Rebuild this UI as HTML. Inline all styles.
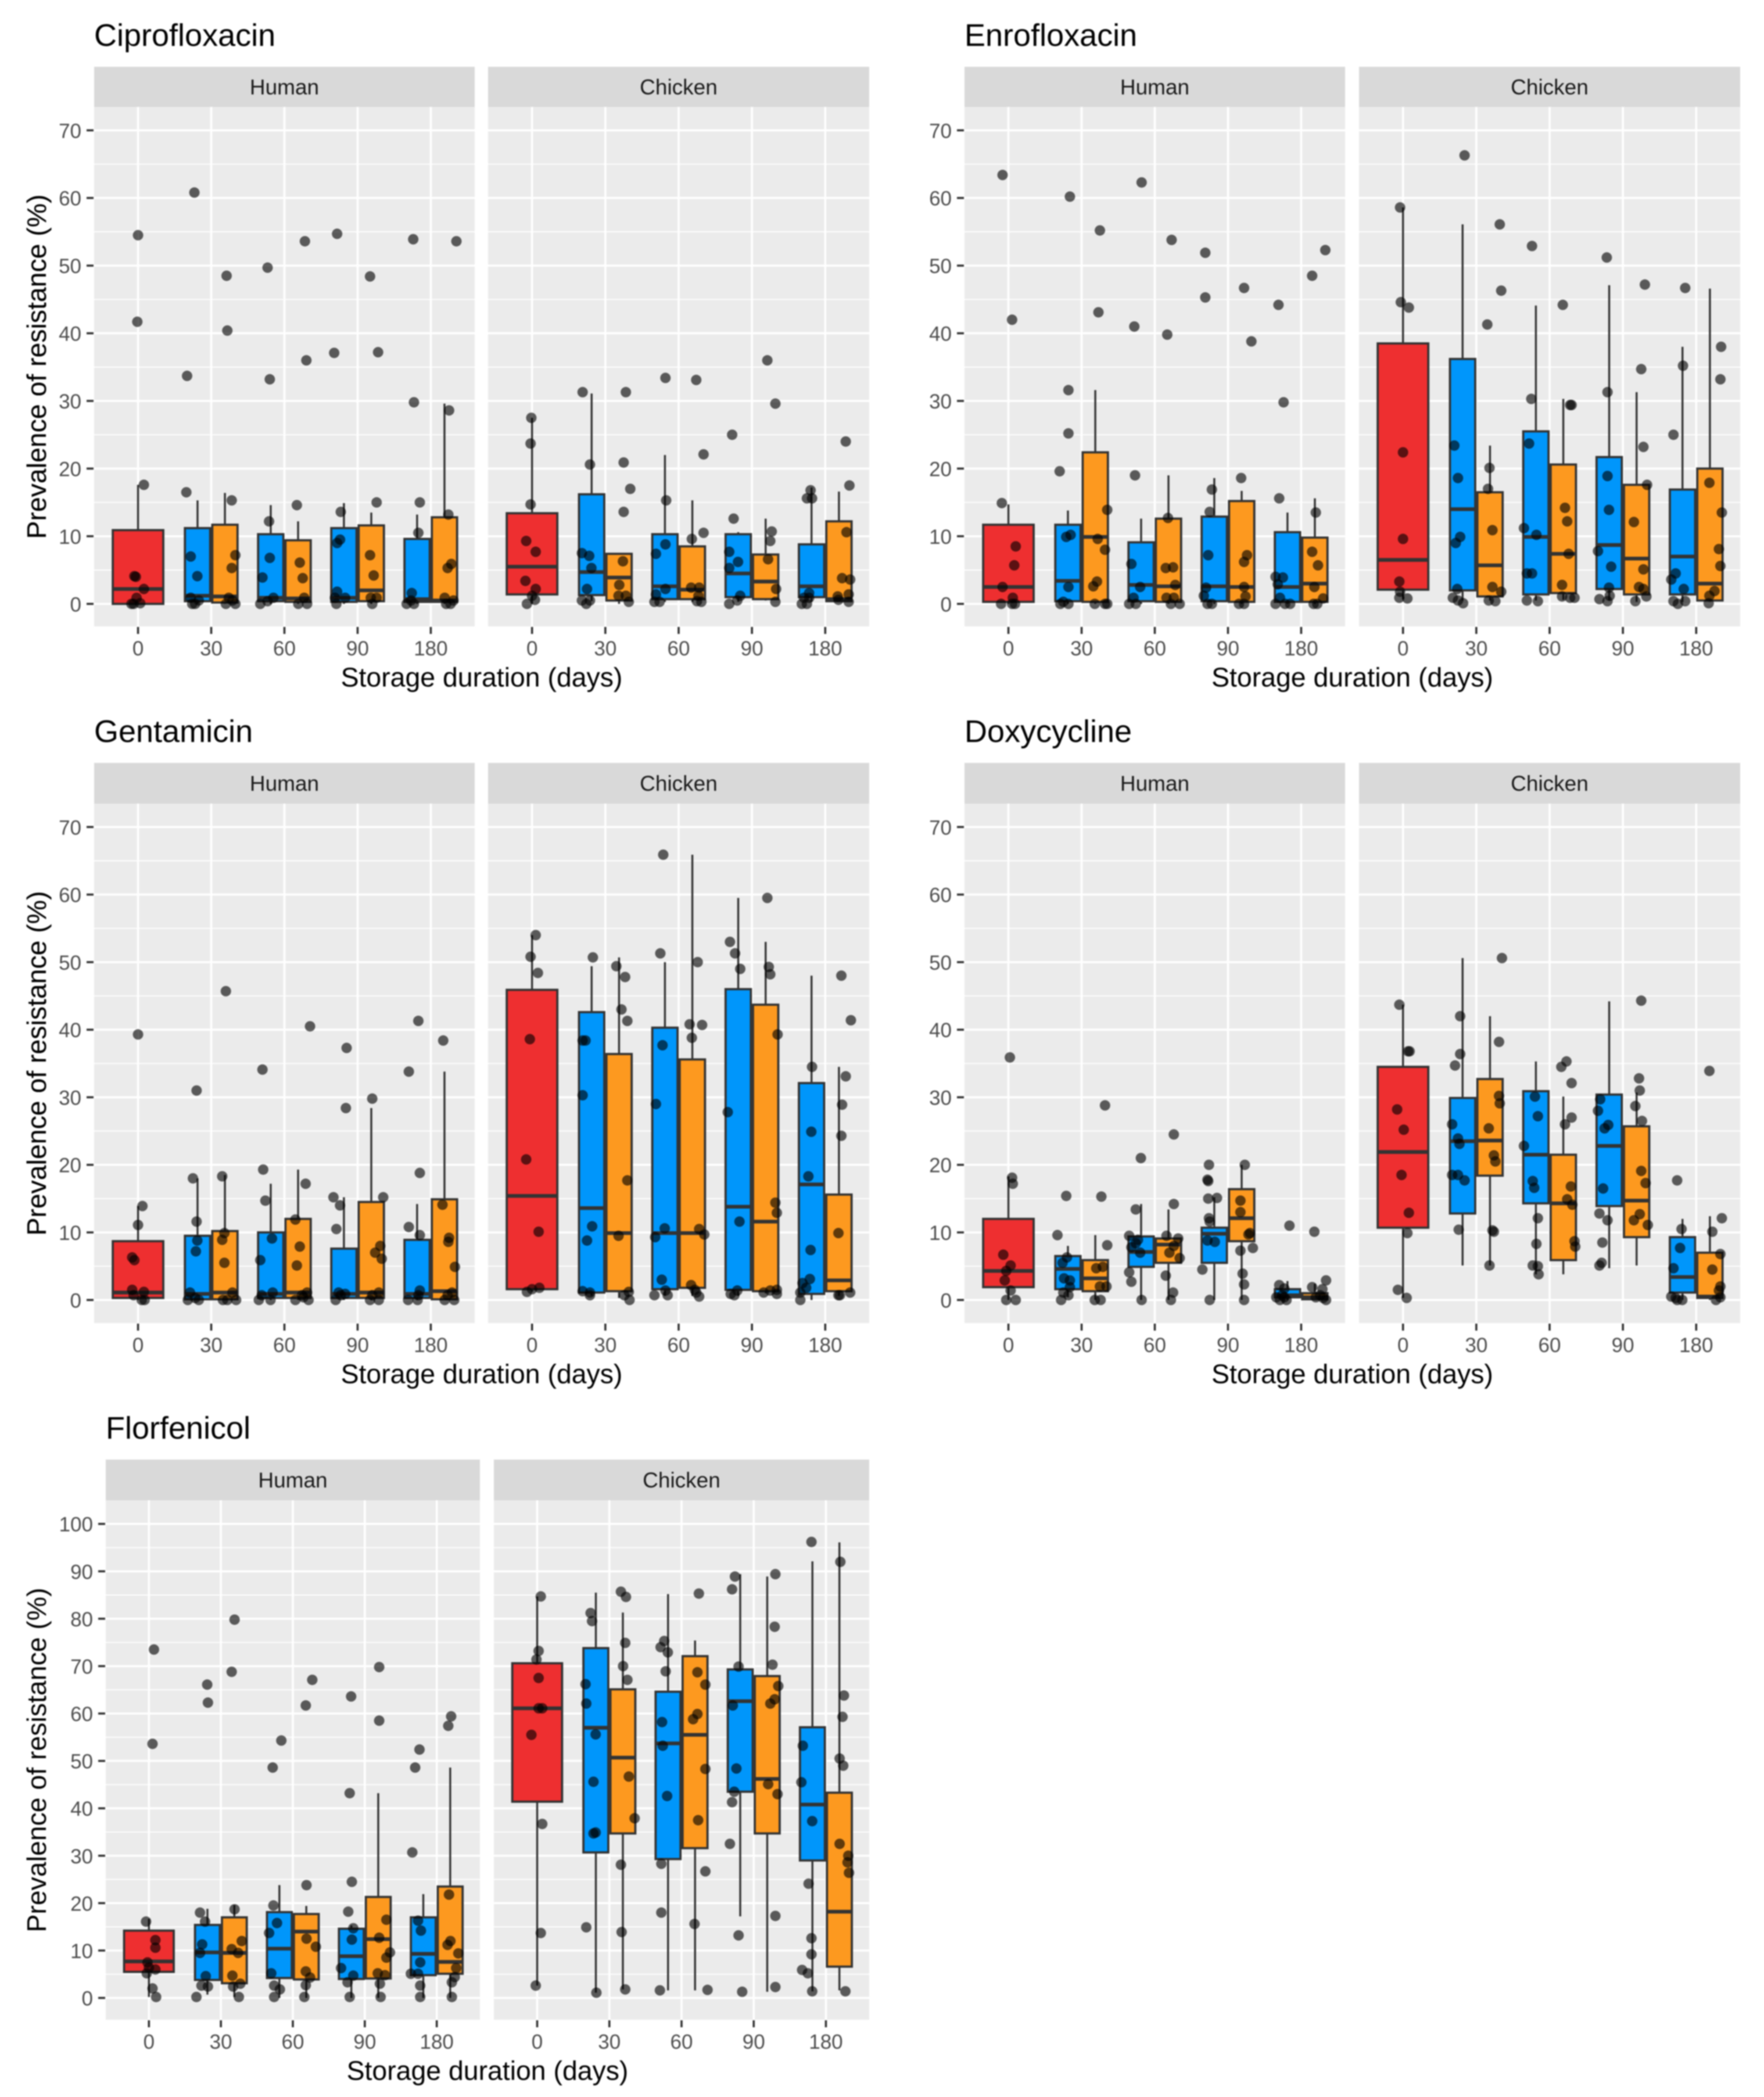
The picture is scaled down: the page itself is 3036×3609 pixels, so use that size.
<!DOCTYPE html>
<html lang="en">
<head>
<meta charset="utf-8">
<title>Prevalence of antimicrobial resistance by storage duration</title>
<style>
html,body{margin:0;padding:0;background:#fff;}
#figure{display:block;width:3036px;height:3609px;filter:blur(1px);font-family:"Liberation Sans",sans-serif;}
</style>
</head>
<body>
<svg id="figure" xmlns="http://www.w3.org/2000/svg" width="3036" height="3609" viewBox="0 0 3036 3609"></svg>
<script>
const categories=['0','30','60','90','180'];
const ticks70=[0,10,20,30,40,50,60,70];
const minor70=[5,15,25,35,45,55,65];
const ticks100=[0,10,20,30,40,50,60,70,80,90,100];
const minor100=[5,15,25,35,45,55,65,75,85,95];
const facetNames=['Human','Chicken'];
const xAxisTitle='Storage duration (days)';
const yAxisTitle='Prevalence of resistance (%)';

/* boxes: [whisker low, q1, median, q3, whisker high] in order 0, 30 frozen A, 30 B, 60 A, 60 B, 90 A, 90 B, 180 A, 180 B */
/* points: per category, [jitter in category units, value] */
const cipHumanBoxes=[[0,0,2.2,10.9,17.6],[0,.4,1.2,11.2,15.3],[0,.2,1.1,11.7,16.4],[0,.4,.9,10.3,14.6],[0,.3,.8,9.4,12.2],[0,.3,.9,11.2,14.9],[0,.4,2,11.6,13.5],[0,.3,.7,9.6,13.2],[0,.3,.5,12.8,29.6]];
const cipHumanPoints=[
[[0,54.5],[-.01,41.7],[.08,17.6],[-.05,4.1],[-.03,4],[.08,2.2],[-.02,.9],[-.09,0],[-.06,0],[.03,.1]],
[[-.23,60.8],[-.33,33.7],[-.34,16.5],[-.28,7],[-.19,4.1],[-.28,.9],[-.22,0],[-.17,.5],[-.26,0],[.21,48.5],[.22,40.4],[.28,15.3],[.33,7.2],[.28,5.3],[.24,.9],[.2,0],[.33,0],[.29,.5]],
[[-.23,49.7],[-.2,33.2],[-.21,12.2],[-.2,6.8],[-.3,3.9],[-.33,0],[-.23,.4],[-.15,.9],[.17,14.6],[.28,53.6],[.3,36],[.21,6.1],[.25,3.8],[.19,0],[.31,0],[.27,.9]],
[[-.28,54.7],[-.32,37.1],[-.23,13.6],[-.28,9],[-.24,9.5],[-.28,1.8],[-.17,.9],[-.29,0],[-.31,.9],[.17,48.4],[.28,37.2],[.26,15],[.17,7.2],[.22,4.2],[.2,0],[.26,.9],[.18,.9]],
[[-.24,53.9],[-.23,29.8],[-.15,15],[-.17,10.5],[-.26,1.6],[-.33,0],[-.23,0],[-.27,.5],[.35,53.6],[.25,28.6],[.24,13.2],[.28,5.9],[.23,5.3],[.19,.9],[.27,0],[.21,0],[.31,.5]]
];
const cipChickenBoxes=[[0,1.4,5.5,13.4,27.5],[.4,1.3,4.7,16.2,31.1],[0,.5,3.9,7.4,7.4],[.3,.7,2.6,10.3,22],[.3,.7,2.1,8.5,15.3],[.3,1,4.5,10.3,10.6],[.5,.7,3.3,7.3,12.6],[.3,1,2.6,8.8,17.2],[.3,.4,.7,12.2,16.6]];
const cipChickenPoints=[
[[-.01,27.5],[-.02,23.7],[-.02,14.7],[-.08,9.3],[.05,7.7],[-.09,3.4],[.05,2.2],[0,1.2],[.04,.6],[-.07,0]],
[[-.31,31.3],[-.21,20.6],[-.32,7.5],[-.22,7.1],[-.19,5.3],[-.25,2.2],[-.32,.5],[-.21,.5],[-.26,0],[.28,31.3],[.25,20.9],[.34,17],[.25,13.6],[.24,6.3],[.19,2.8],[.18,1.2],[.28,1.2],[.32,.3]],
[[-.18,33.4],[-.17,15.3],[-.18,8.8],[-.31,7.4],[-.31,1.4],[-.18,2.2],[-.26,.3],[-.33,.3],[.24,33.1],[.34,22.1],[.34,10.5],[.18,9.6],[.17,2.4],[.28,2.4],[.27,1.2],[.31,.3],[.25,.4]],
[[-.27,25],[-.25,12.6],[-.31,7.7],[-.19,6.2],[-.31,5.3],[-.16,1.2],[-.2,.5],[-.31,0],[.21,36],[.32,29.6],[.27,10.7],[.25,9.3],[.22,6.6],[.33,2.2],[.32,.3]],
[[-.2,16.8],[-.25,15.6],[-.18,15.6],[-.22,1.6],[-.22,.9],[-.32,0],[-.25,0],[-.29,.9],[.28,24],[.33,17.5],[.29,10.6],[.23,3.8],[.34,3.6],[.32,1.4],[.17,1.1],[.18,.6],[.32,.3]]
];

const enrHumanBoxes=[[0,.3,2.5,11.7,14.7],[0,.4,3.4,11.7,13.8],[0,.3,9.9,22.4,31.6],[0,.4,2.8,9.1,12.6],[0,.3,2.6,12.6,19],[0,.4,2.6,12.9,18.6],[0,.3,2.5,15.2,16.7],[0,.3,2.5,10.6,13.5],[0,.3,3,9.8,15.6]];
const enrHumanPoints=[
[[-.08,63.4],[.05,42],[-.09,14.9],[.1,8.5],[.08,5.7],[-.08,2.5],[.06,.9],[-.1,0],[.05,0],[.09,0]],
[[-.16,60.2],[-.18,31.6],[-.18,25.2],[-.3,19.6],[-.15,10.2],[-.21,9.9],[-.18,2.5],[-.25,.3],[-.29,0],[-.18,0],[.25,55.2],[.23,43.1],[.35,13.9],[.22,9.6],[.32,8],[.21,3.3],[.16,2.6],[.18,0],[.32,0],[.35,0]],
[[-.18,62.3],[-.28,41],[-.27,19],[-.32,5.9],[-.2,2.5],[-.29,.9],[-.35,0],[-.26,0],[.23,53.8],[.17,39.8],[.18,12.7],[.15,5.3],[.25,5.4],[.28,2.8],[.16,.9],[.26,.9],[.22,0],[.34,0]],
[[-.31,51.9],[-.31,45.3],[-.22,16.9],[-.25,13.6],[-.27,7.2],[-.3,2.4],[-.33,1.2],[-.28,0],[-.22,0],[.22,46.7],[.32,38.8],[.18,18.6],[.26,7.2],[.22,6.2],[.22,2.5],[.24,1.1],[.15,0],[.22,0]],
[[-.31,44.2],[-.24,29.8],[-.3,15.6],[-.25,3.9],[-.35,4],[-.32,2.9],[-.29,.9],[-.35,0],[-.22,0],[-.15,0],[.15,48.5],[.33,52.3],[.2,13.5],[.15,7.7],[.23,5.7],[.18,2.5],[.3,.8],[.17,0],[.22,0]]
];
const enrChickenBoxes=[[.7,2.1,6.5,38.5,58.6],[.5,2,14,36.2,56.1],[.5,1.1,5.7,16.5,23.4],[.5,1.4,9.9,25.5,44.1],[.6,1.6,7.4,20.6,30.3],[.5,2.2,8.7,21.7,47.1],[.3,1.4,6.7,17.6,31.3],[.3,1.4,7,16.9,38],[.3,.5,3,20,46.6]];
const enrChickenPoints=[
[[-.04,58.6],[-.03,44.6],[.08,43.8],[0,22.4],[0,9.6],[-.05,3.3],[-.04,1.8],[-.05,.9],[.06,.8]],
[[-.16,66.3],[-.3,23.4],[-.25,18.6],[-.22,9.9],[-.28,9],[-.26,2.2],[-.32,.9],[-.25,.5],[-.18,.1],[.32,56.1],[.34,46.3],[.15,41.3],[.18,20.1],[.16,17],[.22,10.9],[.22,2.5],[.34,1.8],[.17,.5],[.26,.4]],
[[-.24,52.9],[-.25,30.3],[-.28,23.7],[-.35,11.2],[-.18,10.2],[-.31,4.5],[-.24,4.5],[-.31,.5],[-.16,.4],[.18,44.2],[.28,29.4],[.3,29.4],[.21,14.2],[.24,12.2],[.26,7.4],[.17,2.8],[.17,1.1],[.34,.9],[.28,.9]],
[[-.22,51.2],[-.21,31.3],[-.21,18.9],[-.19,13.9],[-.34,7.8],[-.16,5.5],[-.19,2.4],[-.18,1.2],[-.32,.7],[-.21,.4],[.3,47.2],[.25,34.7],[.28,23.2],[.33,17.6],[.15,12.1],[.28,5.1],[.22,2.5],[.28,2.2],[.32,1.1],[.17,.4]],
[[-.15,46.7],[-.18,35.2],[-.31,25],[-.28,4.5],[-.34,3.6],[-.17,2.2],[-.31,.4],[-.25,0],[-.15,.4],[.34,38],[.33,33.2],[.18,17.9],[.35,13.5],[.31,8.1],[.33,5.6],[.25,1.9],[.18,1.2],[.17,.1]]
];

const genHumanBoxes=[[0,.3,1.1,8.7,13.9],[0,.1,.9,9.5,18],[0,.1,1.1,10.2,18.5],[0,.3,.9,10,17.2],[0,.3,1.1,12,19.3],[0,.3,.9,7.6,15.2],[0,.3,1.1,14.5,28.4],[0,.3,.9,8.9,14.2],[0,.1,1.3,14.9,33.8]];
const genHumanPoints=[
[[0,39.3],[.06,13.9],[0,11.1],[-.08,6.3],[-.05,5.9],[-.08,1.5],[.08,1.2],[-.06,.7],[.05,0],[.09,0]],
[[-.2,31],[-.25,18],[-.2,11.6],[-.19,8.8],[-.21,7.2],[-.29,1.1],[-.32,0],[-.22,.3],[-.17,0],[.2,45.7],[.15,18.3],[.18,9.9],[.15,8.9],[.18,5.5],[.29,1.1],[.16,0],[.22,0],[.34,0]],
[[-.3,34.1],[-.29,19.3],[-.26,14.7],[-.17,9.1],[-.33,5.9],[-.31,.7],[-.16,1.1],[-.35,0],[-.19,0],[.35,40.5],[.29,17.2],[.15,11.9],[.21,7.9],[.17,5.1],[.31,1.1],[.24,.7],[.15,0],[.33,0],[.26,.4]],
[[-.15,37.3],[-.16,28.4],[-.33,15.2],[-.24,14],[-.29,10.5],[-.26,1.1],[-.17,.9],[-.3,0],[-.23,.7],[.2,29.8],[.35,15.2],[.31,8],[.24,7],[.33,6.1],[.29,1.1],[.2,.7],[.17,0],[.29,0]],
[[-.17,41.3],[-.3,33.8],[-.15,18.8],[-.3,10.8],[-.15,9.6],[-.15,1.4],[-.17,.7],[-.31,0],[-.18,0],[.17,38.4],[.16,14.1],[.25,9.2],[.24,8.6],[.33,4.9],[.29,1.1],[.23,.7],[.19,0],[.32,0]]
];
const genChickenBoxes=[[1.2,1.6,15.4,45.9,54],[.6,1.1,13.6,42.6,49.4],[.3,1.3,9.9,36.4,50.7],[.6,1.6,9.9,40.3,50],[.6,1.8,9.9,35.6,65.9],[.6,1.5,13.8,46,59.5],[1,1.3,11.6,43.7,53],[0,.9,17.1,32.1,48],[.6,1.3,2.9,15.6,34.5]];
const genChickenPoints=[
[[.05,54],[-.02,50.8],[.08,48.4],[-.03,38.6],[-.08,20.8],[.09,10.1],[.1,1.8],[0,1.6],[-.07,1.2]],
[[-.17,50.7],[-.31,38.4],[-.27,38.4],[-.31,30.3],[-.18,10.9],[-.25,8.8],[-.21,1.1],[-.31,1.3],[-.21,.7],[.15,49.4],[.27,47.8],[.22,43],[.3,41.3],[.3,17.7],[.18,9.5],[.32,1.2],[.26,.7],[.33,0]],
[[-.21,65.9],[-.25,51.3],[-.22,37.7],[-.31,29],[-.19,10.6],[-.32,9.3],[-.23,3],[-.18,1.4],[-.33,.7],[-.15,.7],[.26,50],[.15,40.8],[.32,40.7],[.18,38.8],[.28,10.5],[.35,9.7],[.17,2.2],[.22,1.5],[.24,1.1],[.28,.5]],
[[-.3,53],[-.23,51.3],[-.16,49],[-.33,27.8],[-.17,11.6],[-.2,1.4],[-.29,.9],[-.24,.7],[.21,59.5],[.23,49.3],[.25,48.2],[.35,39.3],[.32,14.4],[.34,12.9],[.16,1.1],[.25,1.4],[.34,1.5],[.34,.9]],
[[-.18,34.5],[-.19,24.9],[-.23,18.3],[-.2,7.4],[-.21,3.1],[-.31,2.5],[-.26,1.8],[-.34,1.1],[-.34,0],[.22,48],[.35,41.4],[.28,33.1],[.23,28.9],[.22,24.3],[.18,9.9],[.34,1.1],[.18,.7],[.2,.7]]
];

const doxHumanBoxes=[[0,1.9,4.3,12,18.3],[.4,1.6,4.6,6.5,8],[0,1.3,3.2,5.9,9.6],[0,4.9,7.1,9.4,14.2],[0,5.5,8.2,9.1,13.4],[0,5.5,9.8,10.7,15.2],[0,8.7,12.1,16.4,20],[0,.4,.7,1.6,2.8],[0,.1,.4,1,2.4]];
const doxHumanPoints=[
[[.02,35.9],[.05,18.1],[.06,17.2],[-.07,6.7],[.03,5.1],[-.03,4.3],[-.05,2.9],[.03,1.4],[-.03,0],[.1,0]],
[[-.21,15.4],[-.33,9.6],[-.2,6.3],[-.26,5.5],[-.24,3.2],[-.16,2.9],[-.16,1.9],[-.25,1.1],[-.28,0],[-.18,.7],[.32,28.8],[.27,15.3],[.35,8.1],[.2,4.7],[.29,4.9],[.25,2],[.34,2],[.18,0],[.26,0]],
[[-.19,21],[-.26,13.4],[-.35,9.5],[-.23,8.9],[-.32,7.8],[-.26,8.4],[-.2,7],[-.35,4.1],[-.32,2.7],[-.18,0],[.26,24.5],[.26,14.2],[.16,9.5],[.32,9.1],[.26,8],[.2,7],[.34,6.2],[.15,3.6],[.25,1.1],[.22,0]],
[[-.26,20],[-.28,17.8],[-.27,17.6],[-.27,15],[-.15,15.1],[-.26,12.1],[-.25,11.6],[-.28,8.8],[-.18,8.6],[-.35,4.5],[-.25,0],[.23,20],[.17,14.7],[.17,13],[.3,9.9],[.28,9.7],[.34,7.7],[.17,7.3],[.2,3.9],[.22,2.3],[.22,0]],
[[-.16,11],[-.3,2.2],[-.23,1.7],[-.34,.4],[-.29,0],[-.23,.4],[-.26,.7],[-.2,0],[.18,10.1],[.34,2.9],[.15,1.9],[.29,1.6],[.26,.7],[.2,.4],[.3,.3],[.34,0]]
];
const doxChickenBoxes=[[.3,10.7,21.9,34.5,43.7],[5.1,12.8,23.5,29.9,50.6],[5.1,18.4,23.6,32.7,42],[3.8,14.3,21.5,30.9,35.3],[3.8,5.9,14.3,21.5,30.1],[4.7,13.9,22.8,30.4,44.2],[5.1,9.3,14.7,25.7,30.7],[0,1.1,3.4,9.3,12],[0,.3,.5,7,12.4]];
const doxChickenPoints=[
[[-.05,43.7],[.07,36.8],[.09,36.8],[-.08,28.2],[.01,25.2],[-.02,18.5],[.08,12.9],[.06,9.9],[-.07,1.5],[.05,.3]],
[[-.22,42],[-.22,36.4],[-.29,34.7],[-.33,26],[-.25,23.9],[-.23,23.1],[-.33,18.5],[-.25,18.5],[-.16,17.7],[-.24,10.4],[.35,50.6],[.31,38.2],[.31,30.2],[.32,29.1],[.17,25.4],[.24,21.4],[.26,20.5],[.22,10.3],[.24,10.1],[.18,5.1]],
[[-.2,30.1],[-.16,27.2],[-.35,22.8],[-.23,17.6],[-.21,16.6],[-.16,12.1],[-.18,8.3],[-.23,5.1],[-.16,5],[-.15,3.8],[.23,35.3],[.16,34.5],[.3,32.1],[.3,27],[.21,26],[.29,16.8],[.24,14.9],[.31,14.1],[.34,8.7],[.35,7.9]],
[[-.31,29.7],[-.34,28],[-.2,25.9],[-.25,25.4],[-.27,16.5],[-.32,12.8],[-.21,11.8],[-.28,8.5],[-.29,5.5],[-.32,5.1],[.25,44.3],[.22,32.8],[.23,31],[.17,28.7],[.26,26.5],[.25,19.1],[.31,17.3],[.23,12.7],[.15,11.8],[.34,11.1]],
[[-.26,17.7],[-.2,10.5],[-.22,7.7],[-.31,4.7],[-.34,.5],[-.28,.3],[-.26,0],[-.19,0],[.18,33.9],[.35,12.1],[.22,10.1],[.33,6.8],[.22,4.5],[.33,2],[.31,1.4],[.27,0],[.33,.4]]
];

const florHumanBoxes=[[.2,5.5,7.7,14.2,16.7],[.7,3.8,9.6,15.4,18.8],[.2,3.1,9.5,17,19.6],[0,4.2,10.4,18.1,23.8],[0,3.9,14,17.7,19.4],[0,4,8.8,14.6,15.3],[0,4.1,12.4,21.3,43.2],[0,4.8,9.3,17,21.9],[0,5.1,7.6,23.5,48.6]];
const florHumanPoints=[
[[.07,73.5],[.05,53.6],[-.04,16.1],[.09,12.2],[.09,10.6],[-.02,7.5],[0,6.4],[.09,6],[-.03,5.2],[.05,2],[.1,.2]],
[[-.19,66.1],[-.18,62.3],[-.29,18],[-.22,16.1],[-.26,11.3],[-.29,9.5],[-.21,4.6],[-.27,2.6],[-.18,2.4],[-.34,.2],[.19,79.8],[.15,68.8],[.19,18.7],[.29,12],[.15,10.3],[.24,9.5],[.16,4.7],[.27,3],[.17,2.4],[.25,.2]],
[[-.16,54.3],[-.28,48.6],[-.27,19.5],[-.22,15.8],[-.33,13.7],[-.3,5.2],[-.26,2.6],[-.18,1.8],[-.26,.2],[.27,67.1],[.18,61.7],[.19,23.8],[.19,12.5],[.32,10.8],[.18,5.6],[.24,4.3],[.18,2.7],[.16,.2]],
[[-.19,63.6],[-.21,43.2],[-.18,24.5],[-.23,18.2],[-.16,14.7],[-.18,12.3],[-.33,6.3],[-.16,4.7],[-.24,3.3],[-.21,.2],[.2,69.8],[.2,58.5],[.3,16.5],[.2,12.7],[.3,8.5],[.35,9.6],[.18,5.2],[.28,4.8],[.21,3],[.22,.2]],
[[-.24,52.4],[-.3,48.6],[-.34,30.7],[-.26,16.3],[-.22,14.2],[-.23,7.5],[-.36,5.1],[-.26,5.1],[-.23,2.6],[-.23,.2],[.2,59.4],[.16,57.4],[.17,21.8],[.19,12],[.15,11.2],[.3,9.4],[.27,6.3],[.25,4.4],[.21,3.3],[.21,.2]]
];
const florChickenBoxes=[[2.6,41.4,61.1,70.6,84.7],[1.1,30.7,57,73.8,85.5],[1.8,34.7,50.7,65.1,81.3],[1.6,29.3,53.7,64.6,85.2],[1.6,31.6,55.5,72.1,75.4],[17.2,43.5,62.6,69.3,89.4],[1.3,34.7,46.2,67.9,88.9],[1.4,29,40.8,57.1,92.1],[1.6,6.6,18.2,43.3,96.1]];
const florChickenPoints=[
[[.05,84.7],[.02,73.2],[-.01,71.4],[.02,67.5],[.02,61.1],[.07,61.1],[-.08,55.5],[.07,36.7],[.05,13.7],[-.02,2.6]],
[[-.26,81.2],[-.24,79.5],[-.33,66.2],[-.32,62.1],[-.19,55.6],[-.22,45.6],[-.22,34.7],[-.19,34.9],[-.32,14.9],[-.18,1.1],[.16,85.7],[.23,84.6],[.22,74.9],[.19,70],[.25,67.1],[.27,46.7],[.35,37.9],[.16,28.1],[.17,13.9],[.22,1.8]],
[[-.24,75.3],[-.29,74],[-.19,72.9],[-.22,68.9],[-.27,58.2],[-.26,53.2],[-.2,42.6],[-.28,28.3],[-.28,18],[-.3,1.6],[.24,85.3],[.22,68.7],[.33,66.1],[.22,59.9],[.16,58.8],[.33,48.3],[.23,37.5],[.33,26.7],[.18,15.6],[.36,1.7]],
[[-.26,88.9],[-.3,86.2],[-.21,69.9],[-.29,61.7],[-.24,48.4],[-.27,43.5],[-.3,41.3],[-.33,32.5],[-.21,13.2],[-.16,1.3],[.3,89.4],[.29,78.3],[.26,70.3],[.34,65.8],[.29,63],[.23,62.1],[.2,45.1],[.33,43],[.3,17.3],[.3,2.3]],
[[-.2,96.2],[-.32,53.2],[-.34,45.5],[-.19,37.3],[-.24,24.1],[-.2,12.6],[-.2,9.2],[-.33,5.9],[-.25,5.2],[-.19,1.4],[.2,92],[.25,63.8],[.23,59.3],[.19,50.5],[.24,49],[.19,32.5],[.31,30],[.3,28.6],[.32,26.4],[.27,1.4]]
];

const NS='http://www.w3.org/2000/svg';
const svg=document.getElementById('figure');
const FILLS={red:'#ee2f30',blue:'#0096fb',orange:'#fd991f'};

function make(tag,attrs,parent,text){
  const el=document.createElementNS(NS,tag);
  for(const k in attrs){el.setAttribute(k,attrs[k]);}
  if(text!==undefined){el.textContent=text;}
  parent.appendChild(el);
  return el;
}

function drawFacet(parent,name,left,right,top,stripTop,bottom,yZero,yPerUnit,majors,minors,boxes,points,showYLabels){
  const unit=(right-left)/5.2;
  const xAt=function(c){return left+(0.6+c)*unit;};
  const yAt=function(v){return yZero-v*yPerUnit;};

  const g=make('g',{},parent);
  
  

  const strip=make('rect',{x:left,y:stripTop,width:right-left,height:top-stripTop,fill:'#d9d9d9'},g);
  
  

  const stripLabel=make('text',{x:(left+right)/2,y:(top+stripTop)/2+13,'text-anchor':'middle','font-size':37,fill:'#1a1a1a'},g,name);
  
  

  const bg=make('rect',{x:left,y:top,width:right-left,height:bottom-top,fill:'#ebebeb'},g);
  
  

  minors.forEach(function(v){
    const line=make('line',{x1:left,x2:right,y1:yAt(v),y2:yAt(v),stroke:'#fff','stroke-width':1.8},g);
    
    
  });
  majors.forEach(function(v){
    const line=make('line',{x1:left,x2:right,y1:yAt(v),y2:yAt(v),stroke:'#fff','stroke-width':3.6},g);
    
    
    if(showYLabels){
      const tick=make('line',{x1:left-13,x2:left-1,y1:yAt(v),y2:yAt(v),stroke:'#333','stroke-width':3.6},g);
      
      
      const label=make('text',{x:left-22,y:yAt(v)+13,'text-anchor':'end','font-size':35,fill:'#4d4d4d'},g,String(v));
      
      
    }
  });
  categories.forEach(function(c,i){
    const line=make('line',{x1:xAt(i),x2:xAt(i),y1:top,y2:bottom,stroke:'#fff','stroke-width':3.6},g);
    
    
    const tick=make('line',{x1:xAt(i),x2:xAt(i),y1:bottom+1,y2:bottom+13,stroke:'#333','stroke-width':3.6},g);
    
    
    const label=make('text',{x:xAt(i),y:bottom+50,'text-anchor':'middle','font-size':35,fill:'#4d4d4d'},g,c);
    
    
  });

  boxes.forEach(function(b,i){
    const cat=i===0?0:Math.ceil(i/2);
    const offset=i===0?0:(i%2===1?-0.187:0.187);
    const width=i===0?0.69:0.345;
    const fill=i===0?FILLS.red:(i%2===1?FILLS.blue:FILLS.orange);
    const cx=xAt(cat+offset);
    const x0=xAt(cat+offset-width/2);
    const x1=xAt(cat+offset+width/2);

    const upper=make('line',{x1:cx,x2:cx,y1:yAt(b[3]),y2:yAt(b[4]),stroke:'#333','stroke-width':3.4},g);
    
    

    const lower=make('line',{x1:cx,x2:cx,y1:yAt(b[1]),y2:yAt(b[0]),stroke:'#333','stroke-width':3.4},g);
    
    

    const box=make('rect',{x:x0,y:yAt(b[3]),width:x1-x0,height:yAt(b[1])-yAt(b[3]),fill:fill,stroke:'#333','stroke-width':3.8},g);
    
    

    const median=make('line',{x1:x0,x2:x1,y1:yAt(b[2]),y2:yAt(b[2]),stroke:'#333','stroke-width':6.4},g);
    
    
  });

  points.forEach(function(list,cat){
    list.forEach(function(p){
      const dot=make('circle',{cx:xAt(cat+p[0]),cy:yAt(p[1]),r:9,fill:'#000','fill-opacity':0.62},g);
      
      
    });
  });
}

function drawChart(name,id,left,lr,rl,right,stripTop,top,bottom,yZero,yPerUnit,majors,minors,humanBoxes,humanPoints,chickenBoxes,chickenPoints){
  const g=make('g',{},svg);
  
  

  const title=make('text',{x:left,y:stripTop-36,'font-size':54,fill:'#000'},g,name);
  
  

  drawFacet(g,facetNames[0],left,lr,top,stripTop,bottom,yZero,yPerUnit,majors,minors,humanBoxes,humanPoints,true);
  drawFacet(g,facetNames[1],rl,right,top,stripTop,bottom,yZero,yPerUnit,majors,minors,chickenBoxes,chickenPoints,false);

  const xTitle=make('text',{x:(left+right)/2,y:bottom+103.5,'text-anchor':'middle','font-size':46.4,fill:'#000'},g,xAxisTitle);
  
  

  const yMid=(top+bottom)/2;
  const yX=79;
  const yTitle=make('text',{x:yX,y:yMid,'text-anchor':'middle','font-size':46.4,fill:'#000',transform:'rotate(-90 '+yX+' '+yMid+')'},g,yAxisTitle);
  
  
}

drawChart('Ciprofloxacin','ciprofloxacin',162,817,840,1496,115,184,1078,1039.3,815/70,ticks70,minor70,cipHumanBoxes,cipHumanPoints,cipChickenBoxes,cipChickenPoints);
drawChart('Enrofloxacin','enrofloxacin',1660,2315,2339,2995,115,184,1078,1039.3,815/70,ticks70,minor70,enrHumanBoxes,enrHumanPoints,enrChickenBoxes,enrChickenPoints);
drawChart('Gentamicin','gentamicin',162,817,840,1496,1313,1383,2277,2237.3,814/70,ticks70,minor70,genHumanBoxes,genHumanPoints,genChickenBoxes,genChickenPoints);
drawChart('Doxycycline','doxycycline',1660,2315,2339,2995,1313,1383,2277,2237.3,814/70,ticks70,minor70,doxHumanBoxes,doxHumanPoints,doxChickenBoxes,doxChickenPoints);
drawChart('Florfenicol','florfenicol',182,826,850,1496,2512,2582,3476,3438.5,815.8/100,ticks100,minor100,florHumanBoxes,florHumanPoints,florChickenBoxes,florChickenPoints);
</script>
</body>
</html>
